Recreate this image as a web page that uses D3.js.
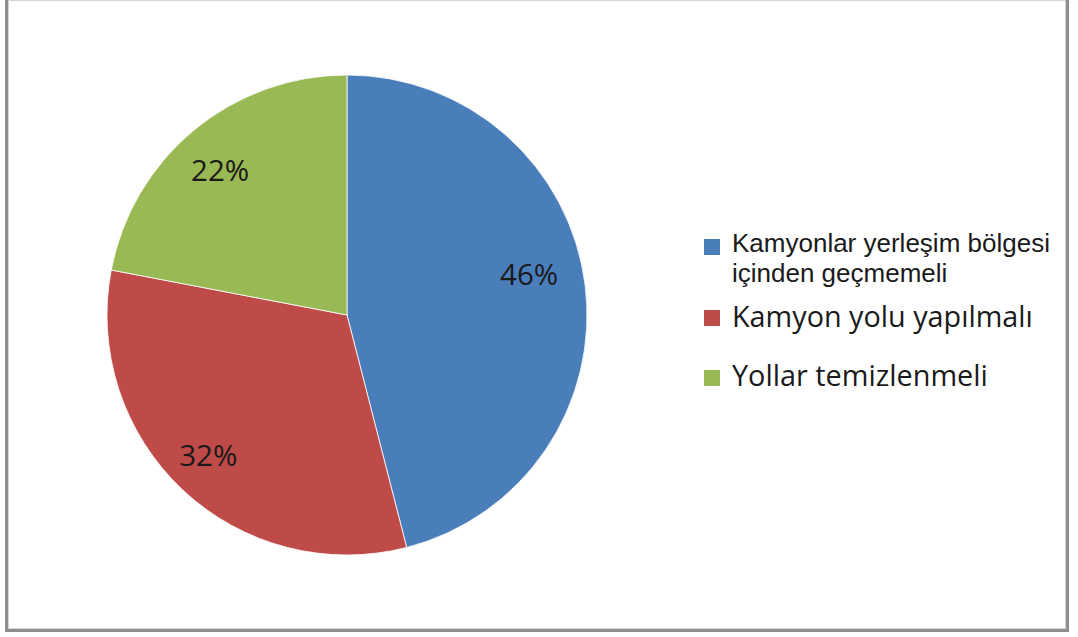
<!DOCTYPE html>
<html>
<head>
<meta charset="utf-8">
<script src="https://cdn.jsdelivr.net/npm/d3@7"></script>
<style>
  html, body { margin: 0; padding: 0; background: #fff; }
  svg { display: block; }
</style>
</head>
<body>
<svg id="chart" width="1078" height="637"></svg>
<script>
// Survey answers and their shares (%)
const categories = [
  "Kamyonlar yerleşim bölgesi içinden geçmemeli",
  "Kamyon yolu yapılmalı",
  "Yollar temizlenmeli"
];
const values = [46, 32, 22];
const legendLines = [
  ["Kamyonlar yerleşim bölgesi", "içinden geçmemeli"],
  ["Kamyon yolu yapılmalı"],
  ["Yollar temizlenmeli"]
];
const colors = ["#4A7EBB", "#BE4B48", "#98B954"];

const svg = d3.select("#chart");

// Frame around the chart area
const frame = svg.append("g");
frame.append("rect").attr("x", 8.5).attr("y", 0.5).attr("width", 1057).attr("height", 628)
  .attr("fill", "#fff").attr("stroke", "#d4d4d4").attr("stroke-width", 1);
frame.append("rect").attr("x", 5).attr("y", 0).attr("width", 3).attr("height", 632).attr("fill", "#8e8e8e");
frame.append("rect").attr("x", 1066).attr("y", 0).attr("width", 3).attr("height", 632).attr("fill", "#8e8e8e");
frame.append("rect").attr("x", 5).attr("y", 629).attr("width", 1064).attr("height", 3).attr("fill", "#8e8e8e");

// Pie
const cx = 347, cy = 315, R = 240;
const pie = d3.pie().sort(null).value(d => d)(values);
const arc = d3.arc().innerRadius(0).outerRadius(R);
const labelArc = d3.arc().innerRadius(R * 0.79).outerRadius(R * 0.79);
// fine placement of the percentage labels around their centroids
const labelNudge = [[-6, -17], [-9, 2], [-6, 1]];

const g = svg.append("g").attr("transform", `translate(${cx},${cy})`);
g.selectAll("path.slice").data(pie).join("path")
  .attr("class", "slice")
  .attr("d", arc)
  .attr("fill", (d, i) => colors[i])
  .attr("stroke", "#ffffff")
  .attr("stroke-width", 0.8);

g.selectAll("text.pct").data(pie).join("text")
  .attr("class", "pct")
  .attr("transform", (d, i) => {
    const [x, y] = labelArc.centroid(d);
    return `translate(${x + labelNudge[i][0]},${y + labelNudge[i][1]})`;
  })
  .attr("text-anchor", "middle")
  .attr("dy", "0.36em")
  .attr("font-family", "'Open Sans', Lato, sans-serif")
  .attr("font-size", 29.5)
  .attr("fill", "#1a1a1a")
  .text(d => d.data + "%");

// Legend
const legend = svg.append("g");
const rows = [
  { sw: 239, base: [252, 282], font: "'Liberation Sans', Arial, sans-serif", width: 318 },
  { sw: 310, base: [327], font: "'Open Sans', sans-serif", width: 301 },
  { sw: 370, base: [386], font: "'Open Sans', sans-serif", width: 256 }
];
rows.forEach((r, i) => {
  legend.append("rect").attr("x", 704).attr("y", r.sw).attr("width", 16).attr("height", 16)
    .attr("fill", colors[i]);
  const texts = legendLines[i].map((line, j) =>
    legend.append("text")
      .attr("x", 732).attr("y", r.base[j])
      .attr("font-family", r.font)
      .attr("font-size", 25)
      .attr("fill", "#1a1a1a")
      .text(line));
  // size the entry so its first line spans the legend column
  const w = texts[0].node().getComputedTextLength();
  const size = 25 * r.width / w;
  texts.forEach(t => t.attr("font-size", size));
});
</script>
</body>
</html>
